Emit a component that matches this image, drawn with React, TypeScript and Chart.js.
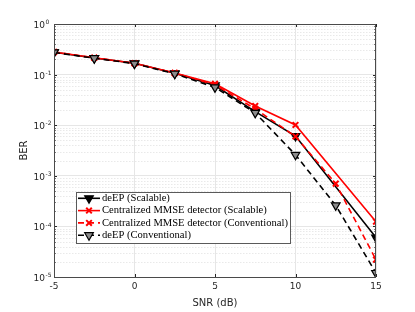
import React, { useEffect, useRef } from 'react';
import { Chart, registerables } from 'chart.js';

Chart.register(...registerables);

// ---- data ----
const SNR_FULL = [-5, -2.5, 0, 2.5, 5, 7.5, 10, 12.5, 15];
const SNR_SCALABLE = [-5, -2.5, 0, 2.5, 5, 7.5, 10, 15];
const DEEP_SCALABLE = [0.276, 0.213, 0.167, 0.106, 0.061, 0.0185, 0.0061, 6.0e-5];
const MMSE_SCALABLE = [0.28, 0.216, 0.168, 0.108, 0.066, 0.024, 0.0101, 1.24e-4];
const MMSE_CONV = [0.28, 0.215, 0.167, 0.107, 0.063, 0.021, 0.006, 7.0e-4, 2.2e-5];
const DEEP_CONV = [0.274, 0.211, 0.165, 0.104, 0.056, 0.0175, 0.0026, 2.6e-4, 1.2e-5];
const SERIES_LABELS = [
  'deEP (Scalable)',
  'Centralized MMSE detector (Scalable)',
  'Centralized MMSE detector (Conventional)',
  'deEP (Conventional)',
];
const X_TICKS = [-5, 0, 5, 10, 15];
const Y_EXPONENTS = [0, -1, -2, -3, -4, -5];
const X_TITLE = 'SNR (dB)';
const Y_TITLE = 'BER';

const AXIS_COLOR = '#262626';
const SANS = '"DejaVu Sans"';

const pts = (xs: number[], ys: number[]) => xs.map((x, i) => ({ x, y: ys[i] }));

type Style = { color: string; dash: number[]; marker: 'tri' | 'x'; fill: string };
const STYLES: Style[] = [
  { color: '#000000', dash: [], marker: 'tri', fill: '#000000' },
  { color: '#ff0000', dash: [], marker: 'x', fill: '#ff0000' },
  { color: '#ff0000', dash: [6, 4], marker: 'x', fill: '#ff0000' },
  { color: '#000000', dash: [6, 4], marker: 'tri', fill: '#8c8c8c' },
];

function drawMarker(ctx: CanvasRenderingContext2D, s: Style, x: number, y: number) {
  ctx.save();
  ctx.setLineDash([]);
  if (s.marker === 'tri') {
    const r = 5;
    ctx.beginPath();
    ctx.moveTo(x, y + r);
    ctx.lineTo(x - r * 0.866, y - r * 0.5);
    ctx.lineTo(x + r * 0.866, y - r * 0.5);
    ctx.closePath();
    ctx.fillStyle = s.fill;
    ctx.fill();
    ctx.strokeStyle = s.color;
    ctx.lineWidth = 1.2;
    ctx.stroke();
  } else {
    const d = 2.8;
    ctx.strokeStyle = s.color;
    ctx.lineWidth = 2;
    ctx.beginPath();
    ctx.moveTo(x - d, y - d);
    ctx.lineTo(x + d, y + d);
    ctx.moveTo(x - d, y + d);
    ctx.lineTo(x + d, y - d);
    ctx.stroke();
  }
  ctx.restore();
}

const framePlugin = {
  id: 'matlabFrame',
  beforeDatasetsDraw(chart: any) {
    const { ctx, chartArea, scales } = chart;
    const { left, right } = chartArea;
    const y = scales.y;
    ctx.save();
    ctx.strokeStyle = '#e9e9e9';
    ctx.lineWidth = 1;
    ctx.setLineDash([1.5, 1.5]);
    for (let e = -5; e < 0; e++) {
      for (let m = 2; m <= 9; m++) {
        const py = Math.round(y.getPixelForValue(m * Math.pow(10, e))) + 0.5;
        ctx.beginPath();
        ctx.moveTo(left, py);
        ctx.lineTo(right, py);
        ctx.stroke();
      }
    }
    ctx.restore();
  },
  afterDatasetsDraw(chart: any) {
    const { ctx, chartArea, scales } = chart;
    const { left, right, top, bottom } = chartArea;
    const x = scales.x;
    const y = scales.y;
    ctx.save();
    // ticks
    ctx.strokeStyle = AXIS_COLOR;
    ctx.lineWidth = 1;
    ctx.setLineDash([]);
    ctx.beginPath();
    for (const v of X_TICKS) {
      const px = Math.round(x.getPixelForValue(v)) + 0.5;
      ctx.moveTo(px, bottom);
      ctx.lineTo(px, bottom - 3);
      ctx.moveTo(px, top);
      ctx.lineTo(px, top + 3);
    }
    for (let e = -5; e <= 0; e++) {
      for (let m = 1; m <= 9; m++) {
        if (e === 0 && m > 1) break;
        const py = Math.round(y.getPixelForValue(m * Math.pow(10, e))) + 0.5;
        const len = m === 1 ? 3 : 1.6;
        ctx.moveTo(left, py);
        ctx.lineTo(left + len, py);
        ctx.moveTo(right, py);
        ctx.lineTo(right - len, py);
      }
    }
    ctx.stroke();
    // box
    ctx.strokeStyle = '#4a4a4a';
    ctx.strokeRect(left + 0.5, top + 0.5, right - left - 1, bottom - top);

    // y tick labels 10^e
    ctx.fillStyle = AXIS_COLOR;
    for (const e of Y_EXPONENTS) {
      const py = y.getPixelForValue(Math.pow(10, e));
      ctx.font = `9px ${SANS}`;
      ctx.textAlign = 'right';
      ctx.textBaseline = 'middle';
      ctx.fillText('10', 45, py + 1.6);
      ctx.font = `6px ${SANS}`;
      ctx.textAlign = 'left';
      ctx.fillText(String(e), 45.5, py - 1.4);
    }

    // legend
    const lx = 76.5, ly = 192.5, lw = 214, lh = 51;
    ctx.fillStyle = '#ffffff';
    ctx.fillRect(lx, ly, lw, lh);
    ctx.strokeStyle = '#5a5a5a';
    ctx.lineWidth = 1;
    ctx.strokeRect(lx, ly, lw, lh);
    let fs = 10;
    ctx.font = `${fs}px "Liberation Serif"`;
    const wLong = Math.max(...SERIES_LABELS.map((t) => ctx.measureText(t).width));
    fs = (fs * 186) / wLong;
    ctx.font = `${fs}px "Liberation Serif"`;
    SERIES_LABELS.forEach((label, i) => {
      const s = STYLES[i];
      const yc = 198.3 + i * 12.3;
      ctx.save();
      ctx.strokeStyle = s.color;
      ctx.lineWidth = 1.6;
      ctx.setLineDash(s.dash);
      ctx.beginPath();
      ctx.moveTo(78, yc);
      ctx.lineTo(100, yc);
      ctx.stroke();
      ctx.restore();
      drawMarker(ctx, s, 89, yc);
      ctx.fillStyle = '#000000';
      ctx.textAlign = 'left';
      ctx.textBaseline = 'middle';
      ctx.fillText(label, 102, yc);
    });
    ctx.restore();
  },
};

function makeDataset(i: number, xs: number[], ys: number[], order: number) {
  const s = STYLES[i];
  return {
    label: SERIES_LABELS[i],
    data: pts(xs, ys),
    borderColor: s.color,
    backgroundColor: s.fill,
    borderWidth: 1.6,
    borderDash: s.dash,
    pointStyle: s.marker === 'tri' ? 'triangle' : 'crossRot',
    pointRotation: s.marker === 'tri' ? 180 : 0,
    pointRadius: s.marker === 'tri' ? 5 : 4,
    pointBorderWidth: s.marker === 'tri' ? 1.2 : 2,
    pointBorderColor: s.color,
    pointBackgroundColor: s.fill,
    tension: 0,
    order,
  };
}

export default function App() {
  const ref = useRef<HTMLCanvasElement>(null);
  useEffect(() => {
    const canvas = ref.current;
    if (!canvas) return;
    const chart = new Chart(canvas, {
      type: 'line',
      data: {
        datasets: [
          makeDataset(0, SNR_SCALABLE, DEEP_SCALABLE, 4),
          makeDataset(1, SNR_SCALABLE, MMSE_SCALABLE, 3),
          makeDataset(2, SNR_FULL, MMSE_CONV, 2),
          makeDataset(3, SNR_FULL, DEEP_CONV, 1),
        ] as any,
      },
      options: {
        animation: false,
        responsive: false,
        devicePixelRatio: 1,
        layout: { padding: { left: 0, top: 24, right: 39, bottom: 0 } },
        plugins: { legend: { display: false }, tooltip: { enabled: false } },
        scales: {
          x: {
            type: 'linear',
            min: -5,
            max: 15,
            afterBuildTicks: (scale: any) => {
              scale.ticks = X_TICKS.map((v) => ({ value: v }));
            },
            afterFit: (scale: any) => {
              scale.height = 35;
            },
            ticks: {
              font: { family: 'DejaVu Sans', size: 9 },
              color: AXIS_COLOR,
              padding: 4,
              maxRotation: 0,
              callback: (v: any) => String(v),
            },
            grid: { color: '#e6e6e6', drawTicks: false },
            border: { display: false },
            title: {
              display: true,
              text: X_TITLE,
              font: { family: 'DejaVu Sans', size: 10 },
              color: AXIS_COLOR,
              padding: { top: 0, bottom: 3 },
            },
          },
          y: {
            type: 'logarithmic',
            min: 1e-5,
            max: 1,
            afterBuildTicks: (scale: any) => {
              scale.ticks = Y_EXPONENTS.map((e) => ({ value: Math.pow(10, e) }));
            },
            afterFit: (scale: any) => {
              scale.width = 54;
            },
            ticks: { display: false },
            grid: { color: '#e6e6e6', drawTicks: false },
            border: { display: false },
            title: {
              display: true,
              text: Y_TITLE,
              font: { family: 'DejaVu Sans', size: 10 },
              color: AXIS_COLOR,
              padding: { top: 18, bottom: 0 },
            },
          },
        },
      } as any,
      plugins: [framePlugin],
    });
    return () => chart.destroy();
  }, []);
  return (
    <div style={{ position: 'fixed', left: 0, top: 0, width: 415, height: 312, background: '#fff' }}>
      <canvas ref={ref} width={415} height={312} style={{ display: 'block' }} />
    </div>
  );
}
